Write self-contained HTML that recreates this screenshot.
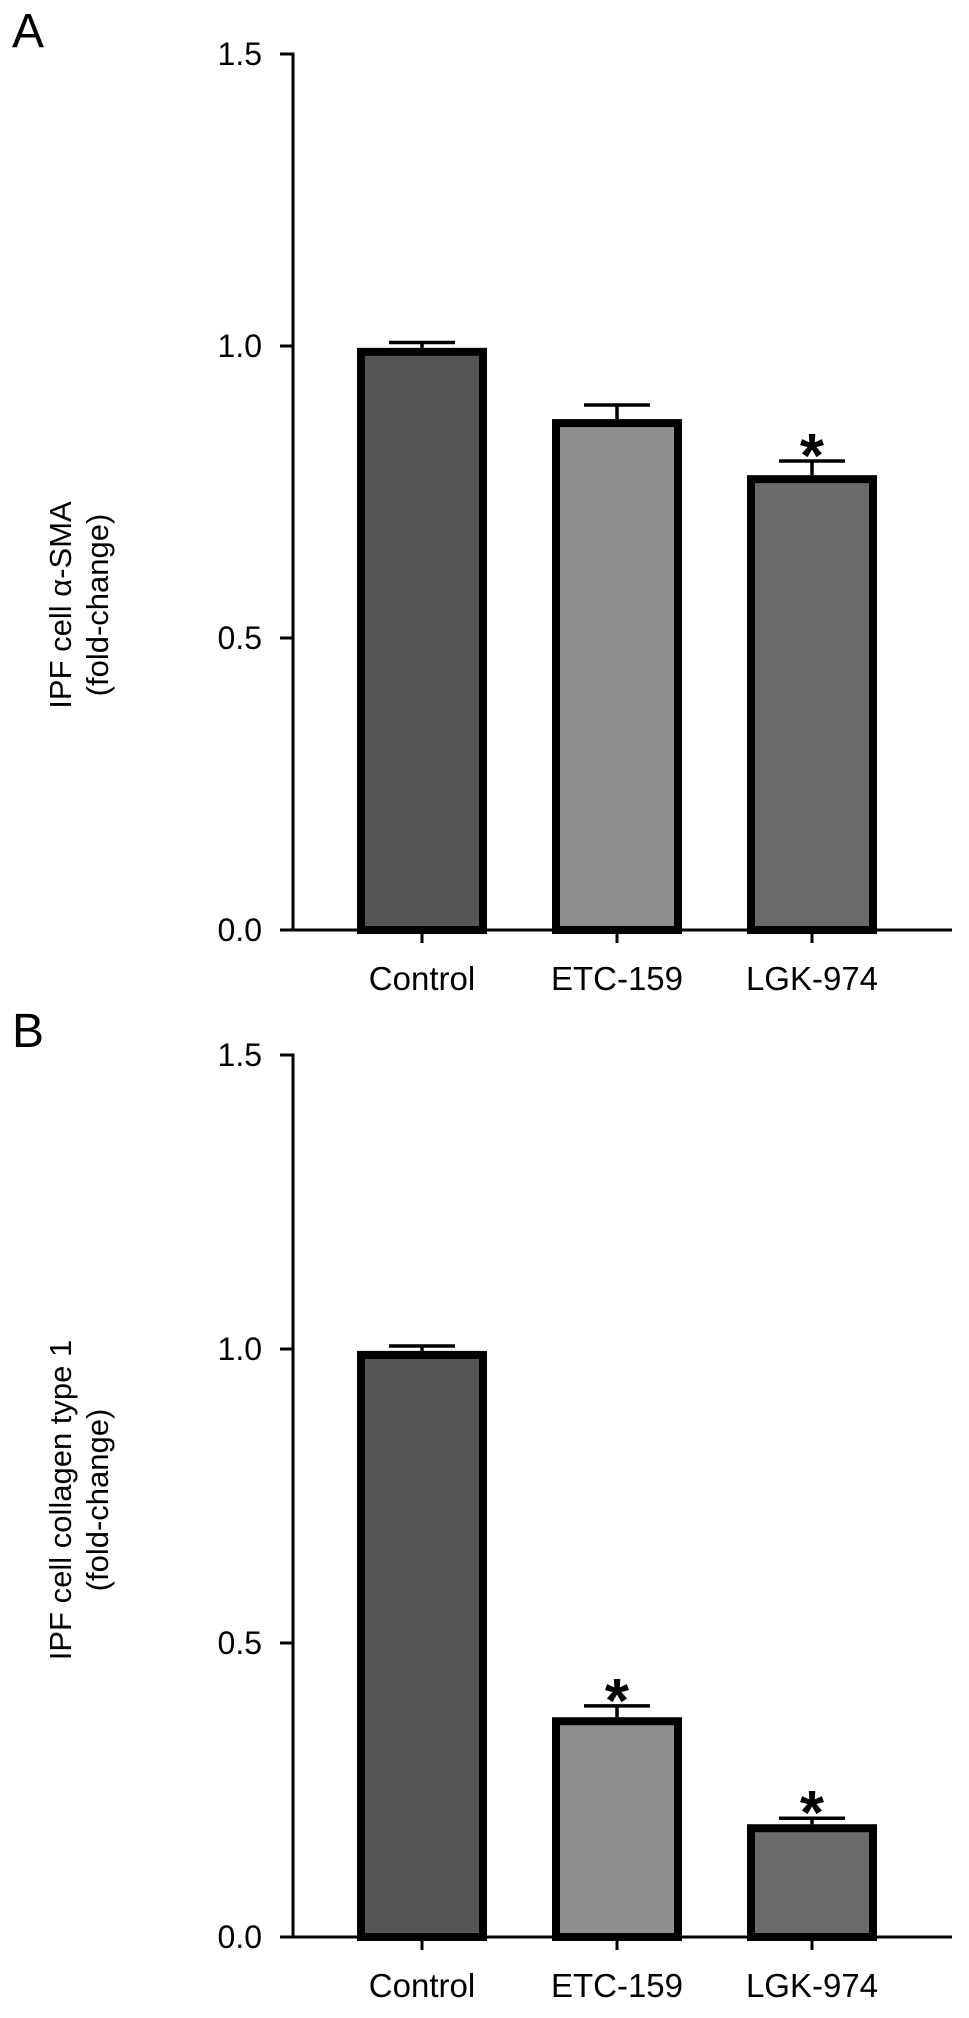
<!DOCTYPE html>
<html><head><meta charset="utf-8"><style>
html,body{margin:0;padding:0;background:#fff;}
svg{display:block;font-family:"Liberation Sans",Arial,sans-serif;}
</style></head><body>
<svg id="fig" width="969" height="2018" viewBox="0 0 969 2018"></svg>
<script>
const categories = ["Control", "ETC-159", "LGK-974"];
const valuesA = [0.99, 0.868, 0.772];
const errorsA = [0.016, 0.031, 0.031];
const sigA = [false, false, true];
const valuesB = [0.99, 0.367, 0.185];
const errorsB = [0.015, 0.026, 0.017];
const sigB = [false, true, true];
const yTicks = [0.0, 0.5, 1.0, 1.5];
const yTickLabels = ["0.0", "0.5", "1.0", "1.5"];
const barColors = ["#555555", "#8e8e8e", "#6a6a6a"];

const NS = "http://www.w3.org/2000/svg";
const svg = document.getElementById("fig");
function mk(tag, attrs, parent) {
  const e = document.createElementNS(NS, tag);
  for (const k in attrs) e.setAttribute(k, attrs[k]);
  (parent || svg).appendChild(e);
  return e;
}

function panel(letter, letterY, y0, yTop, values, errors, sig, titleLines, titleCY, key) {
  const g = mk("g", {});
  
  
  const yScale = v => y0 - (v / 1.5) * (y0 - yTop);
  const axisX = 293;
  const xCenter = i => 422 + i * 195;
  const barW = 122;

  const L = mk("text", {x: 12, y: letterY, "font-size": 48}, g);
  L.textContent = letter;
  
  

  const t = mk("text", {transform: `translate(0,${titleCY}) rotate(-90)`, "font-size": 31, "text-anchor": "middle"}, g);
  
  
  titleLines.forEach((ln, i) => {
    const ts = mk("tspan", {x: 0, y: 71 + i * 37}, t);
    ts.textContent = ln;
  });

  values.forEach((v, i) => {
    const top = yScale(v);
    const r = mk("rect", {x: xCenter(i) - barW / 2, y: top, width: barW, height: y0 - top, fill: barColors[i], stroke: "#000", "stroke-width": 8}, g);
    
    
    const ye = yScale(v + errors[i]);
    const eb = mk("path", {d: `M${xCenter(i)},${top - 4} V${ye} M${xCenter(i) - 33},${ye} H${xCenter(i) + 33}`, stroke: "#000", "stroke-width": 3.5, fill: "none"}, g);
    
    
    if (sig[i]) {
      const s = mk("text", {x: xCenter(i), y: ye + 16, "font-size": 62, "font-weight": "bold", "text-anchor": "middle"}, g);
      s.textContent = "*";
      
      
    }
    const tk = mk("line", {x1: xCenter(i), x2: xCenter(i), y1: y0, y2: y0 + 13, stroke: "#000", "stroke-width": 3}, g);
    
    
    const lb = mk("text", {x: xCenter(i), y: y0 + 60, "font-size": 33, "text-anchor": "middle"}, g);
    lb.textContent = categories[i];
    
    
  });

  const ya = mk("line", {x1: axisX, x2: axisX, y1: yScale(1.5) - 1.5, y2: y0 + 1.5, stroke: "#000", "stroke-width": 3}, g);
  
  
  const xa = mk("line", {x1: 280, x2: 952, y1: y0, y2: y0, stroke: "#000", "stroke-width": 3}, g);
  
  
  yTicks.forEach((v, i) => {
    const yy = yScale(v);
    const tk = mk("line", {x1: 280, x2: axisX, y1: yy, y2: yy, stroke: "#000", "stroke-width": 3}, g);
    
    
    const lb = mk("text", {x: 262, y: yy + 11, "font-size": 32, "text-anchor": "end"}, g);
    lb.textContent = yTickLabels[i];
    
    
  });
}

panel("A", 47, 930, 54, valuesA, errorsA, sigA, ["IPF cell \u03b1-SMA", "(fold-change)"], 605, "a");
panel("B", 1047, 1937, 1055, valuesB, errorsB, sigB, ["IPF cell collagen type 1", "(fold-change)"], 1500, "b");
</script>
</body></html>
